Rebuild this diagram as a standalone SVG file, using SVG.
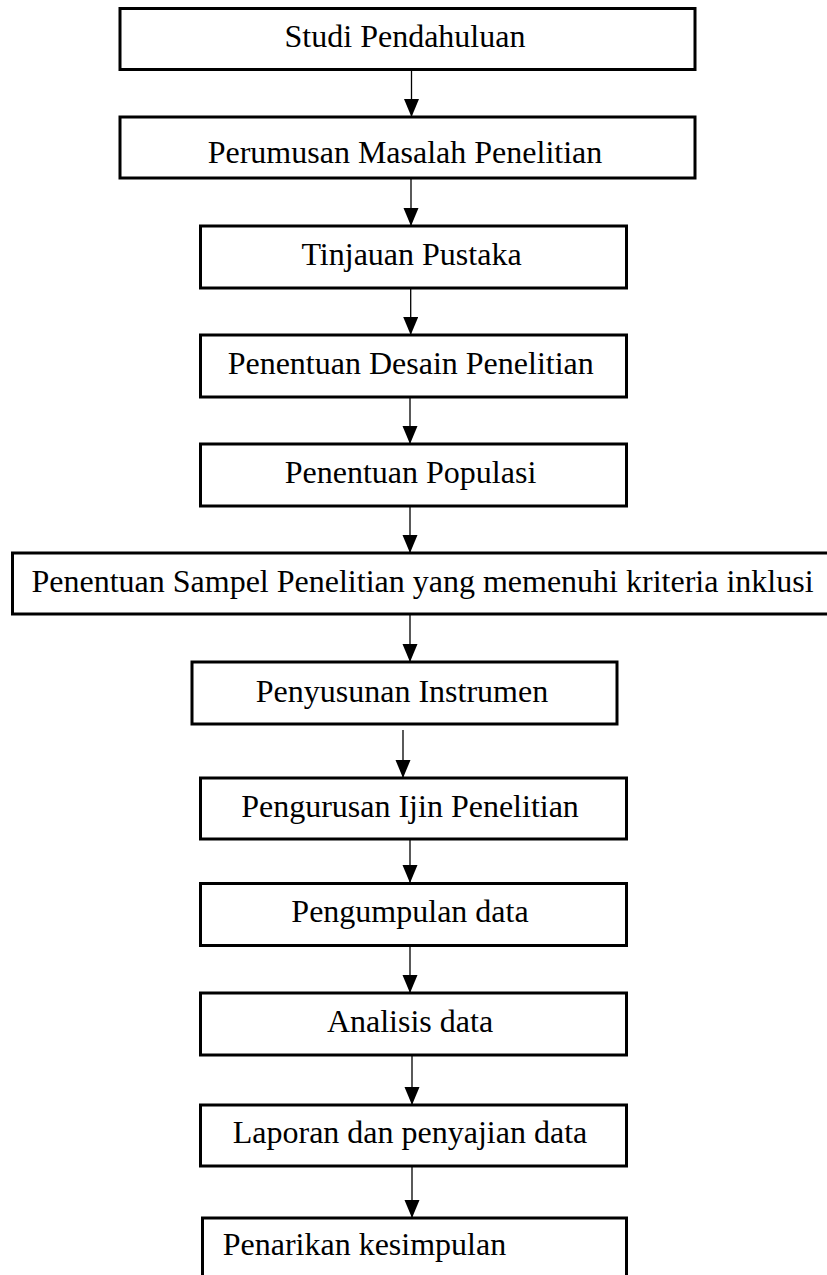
<svg xmlns="http://www.w3.org/2000/svg" width="827" height="1275" viewBox="0 0 827 1275">
  <defs>
    <marker id="arrow" markerUnits="userSpaceOnUse" markerWidth="18" markerHeight="16" refX="18" refY="7.5" orient="auto">
      <path d="M0,0 L18,7.5 L0,15 z" fill="#000"/>
    </marker>
    <style>
      .box { fill: #fff; stroke: #000; stroke-width: 3; }
      .lbl { font-family: "Liberation Serif", "Times New Roman", serif; font-size: 32px; fill: #000; text-anchor: middle; }
      .conn line { stroke: #000; stroke-width: 1.3; marker-end: url(#arrow); }
    </style>
  </defs>
  <rect width="827" height="1275" fill="#fff"/>

  <g id="connectors" class="conn">
    <line x1="411.5" y1="70" x2="411.5" y2="117"/>
    <line x1="411" y1="178" x2="411" y2="226"/>
    <line x1="410.7" y1="288" x2="410.7" y2="335"/>
    <line x1="410" y1="397" x2="410" y2="444"/>
    <line x1="410" y1="506" x2="410" y2="553"/>
    <line x1="410" y1="615" x2="410" y2="662"/>
    <line x1="403" y1="730" x2="403" y2="778"/>
    <line x1="410" y1="839" x2="410" y2="883"/>
    <line x1="410" y1="946" x2="410" y2="993"/>
    <line x1="412" y1="1055" x2="412" y2="1105"/>
    <line x1="412" y1="1166" x2="412" y2="1218"/>
  </g>

  <g id="n1"><rect class="box" x="120" y="8.5" width="575" height="61"/><text class="lbl" x="405" y="47">Studi Pendahuluan</text></g>
  <g id="n2"><rect class="box" x="120" y="117" width="575" height="61"/><text class="lbl" x="405" y="163">Perumusan Masalah Penelitian</text></g>
  <g id="n3"><rect class="box" x="200.5" y="226" width="426" height="62"/><text class="lbl" x="411.5" y="265">Tinjauan Pustaka</text></g>
  <g id="n4"><rect class="box" x="200.5" y="335" width="426" height="62"/><text class="lbl" x="410.7" y="374">Penentuan Desain Penelitian</text></g>
  <g id="n5"><rect class="box" x="200.5" y="444" width="426" height="62"/><text class="lbl" x="410.5" y="483">Penentuan Populasi</text></g>
  <g id="n6"><rect class="box" x="12.5" y="553" width="820" height="61"/><text class="lbl" x="422.5" y="592">Penentuan Sampel Penelitian yang memenuhi kriteria inklusi</text></g>
  <g id="n7"><rect class="box" x="192" y="662" width="425" height="62"/><text class="lbl" x="402" y="702">Penyusunan Instrumen</text></g>
  <g id="n8"><rect class="box" x="200.5" y="778" width="426" height="61"/><text class="lbl" x="410" y="817">Pengurusan Ijin Penelitian</text></g>
  <g id="n9"><rect class="box" x="200.5" y="883.5" width="426" height="62"/><text class="lbl" x="410" y="922">Pengumpulan data</text></g>
  <g id="n10"><rect class="box" x="200.5" y="993" width="426" height="62"/><text class="lbl" x="410" y="1032">Analisis data</text></g>
  <g id="n11"><rect class="box" x="200.5" y="1105" width="426" height="61"/><text class="lbl" x="410" y="1143">Laporan dan penyajian data</text></g>
  <g id="n12"><rect class="box" x="202.5" y="1218" width="424" height="80"/><text class="lbl" x="222.7" y="1255" style="text-anchor:start">Penarikan kesimpulan</text></g>
</svg>
